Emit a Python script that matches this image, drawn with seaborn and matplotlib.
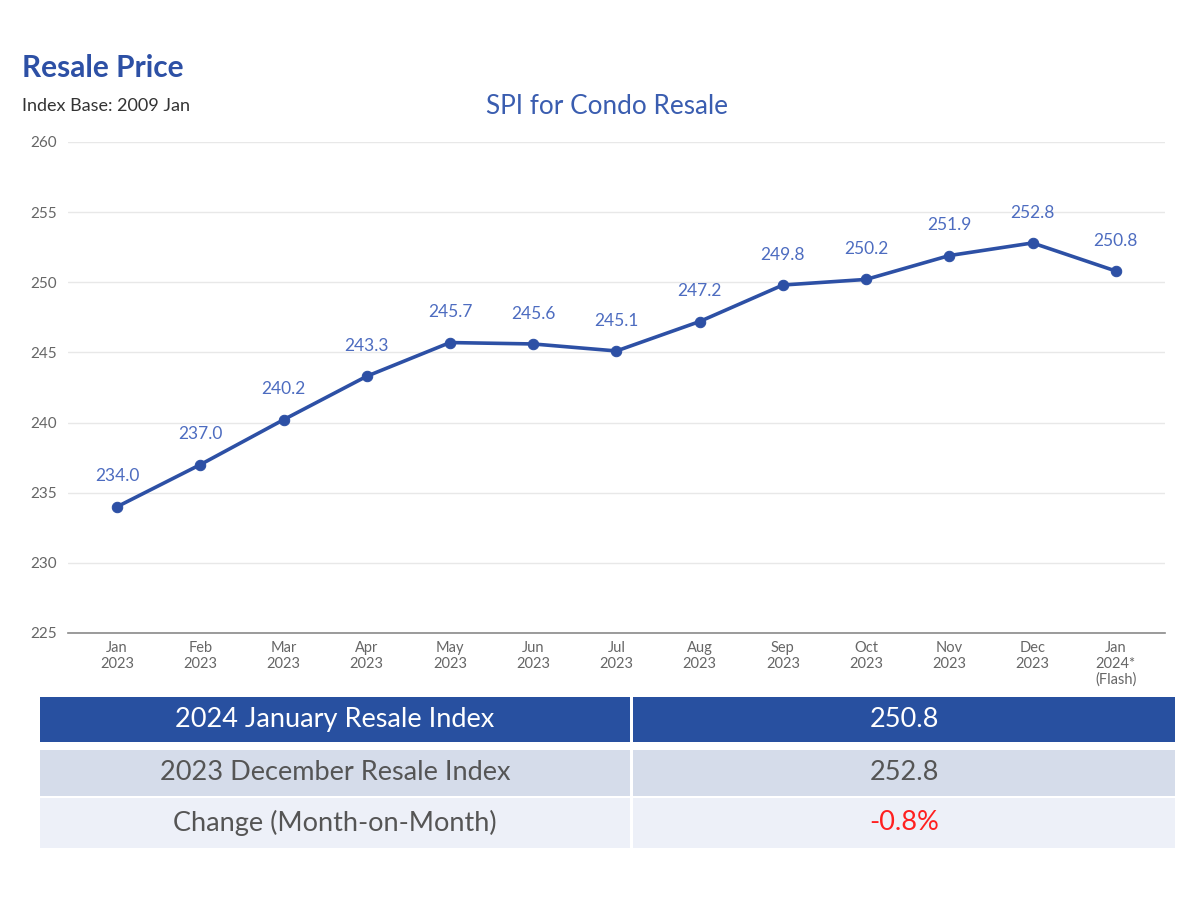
import matplotlib as mpl
mpl.use('Agg')
import matplotlib.pyplot as plt
from matplotlib.patches import Rectangle
import pandas as pd
import seaborn as sns

months = ['Jan\n2023', 'Feb\n2023', 'Mar\n2023', 'Apr\n2023', 'May\n2023',
          'Jun\n2023', 'Jul\n2023', 'Aug\n2023', 'Sep\n2023', 'Oct\n2023',
          'Nov\n2023', 'Dec\n2023', 'Jan\n2024*\n(Flash)']
spi = [234.0, 237.0, 240.2, 243.3, 245.7, 245.6, 245.1,
       247.2, 249.8, 250.2, 251.9, 252.8, 250.8]
y_ticks = [225, 230, 235, 240, 245, 250, 255, 260]

table_labels = ['2024 January Resale Index', '2023 December Resale Index',
                'Change (Month-on-Month)']
table_values = ['250.8', '252.8', '-0.8%']

line_col = '#2d50a5'
label_col = '#4d6cc0'

sns.set_theme(style='white')
plt.rcParams['font.family'] = ['Lato', 'DejaVu Sans']

df = pd.DataFrame({'month': months, 'spi': spi, 'pos': range(len(months))})

fig = plt.figure(figsize=(12, 9), dpi=100)
ax = fig.add_axes([0.0567, 0.2967, 0.914, 0.5456])

sns.lineplot(data=df, x='pos', y='spi', ax=ax, color=line_col,
             linewidth=2.6, marker='o', markersize=7.5,
             markeredgecolor=line_col)

# value labels above each point
for _, row in df.iterrows():
    ax.annotate('{:.1f}'.format(row['spi']), (row['pos'], row['spi']),
                xytext=(0, 16), textcoords='offset points', ha='center',
                va='bottom', color=label_col, fontsize=12.5)

ax.set_xlim(-0.59, len(months) - 1 + 0.59)
ax.set_ylim(225, 260)
ax.set_yticks(y_ticks)
ax.set_yticklabels([str(t) for t in y_ticks], color='#666666', fontsize=11)
ax.set_xticks(df['pos'])
ax.set_xticklabels(months, color='#666666', fontsize=10.5, linespacing=1.15)
ax.tick_params(axis='both', length=0, pad=6)
ax.tick_params(axis='y', pad=8)
ax.set_xlabel('')
ax.set_ylabel('')
ax.grid(axis='y', color='#e8e8e8', linewidth=1)
for side in ['top', 'right', 'left']:
    ax.spines[side].set_visible(False)
ax.spines['bottom'].set_color('#8a8a8a')
ax.spines['bottom'].set_linewidth(1.2)

fig.text(0.506, 0.882, 'SPI for Condo Resale', ha='center', va='center',
         color='#3a5db0', fontsize=18.8)
fig.text(0.018, 0.924, 'Resale Price', ha='left', va='center',
         color='#2d50a5', fontsize=21.5, weight='bold')
fig.text(0.018, 0.882, 'Index Base: 2009 Jan', ha='left', va='center',
         color='#333333', fontsize=13)

# summary table below the chart
tab = fig.add_axes([0, 0, 1, 1], zorder=-1)
tab.set_xlim(0, 1200)
tab.set_ylim(900, 0)
tab.axis('off')
row_tops = [697, 750, 798]
row_hts = [45, 46, 50]
row_cols = ['#2850a0', '#d5dcea', '#edf0f8']
txt_cols = [['white', 'white'], ['#555555', '#555555'],
            ['#555555', '#ff2020']]
for i in range(len(table_labels)):
    tab.add_patch(Rectangle((40, row_tops[i]), 590, row_hts[i],
                            color=row_cols[i], lw=0))
    tab.add_patch(Rectangle((633, row_tops[i]), 542, row_hts[i],
                            color=row_cols[i], lw=0))
    yc = row_tops[i] + row_hts[i] / 2
    tab.text(335, yc, table_labels[i], ha='center', va='center',
             fontsize=19.5, color=txt_cols[i][0])
    tab.text(904, yc, table_values[i], ha='center', va='center',
             fontsize=19.5, color=txt_cols[i][1])

plt.savefig('out.png', dpi=100)
plt.close()
